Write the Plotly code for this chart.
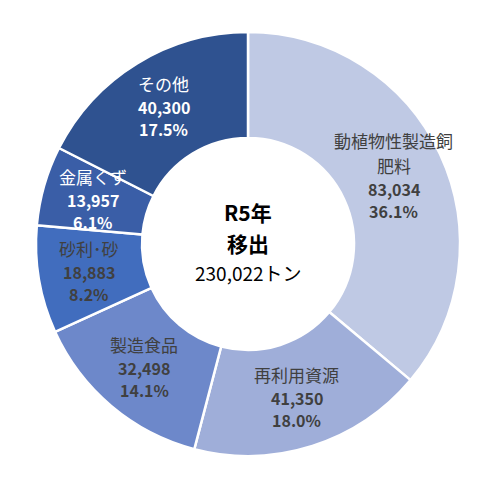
import math
import plotly.graph_objects as go

# 移出量（トン）R5年
labels = ["動植物性製造飼<br>肥料", "再利用資源", "製造食品", "砂利･砂", "金属くず", "その他"]
values = [83034, 41350, 32498, 18883, 13957, 40300]
percents = ["36.1%", "18.0%", "14.1%", "8.2%", "6.1%", "17.5%"]
colors = ["#BFC9E4", "#9FAED9", "#6D88CA", "#416DBE", "#3A5EA7", "#2F5290"]
text_colors = ["#404040", "#404040", "#404040", "#404040", "#FFFFFF", "#FFFFFF"]
center_lines = ["R5年", "移出", "230,022トン"]

FONT = "Noto Sans CJK JP"
W, H = 498, 482
# ページ本体に 8px の余白があるので左上をその分詰める
L, R, T, B = 28, 46, 24, 34

fig = go.Figure(
    go.Pie(
        labels=labels,
        values=values,
        hole=0.5,
        sort=False,
        direction="clockwise",
        rotation=0,
        marker=dict(colors=colors, line=dict(color="white", width=2.5)),
        textinfo="none",
        hoverinfo="label+value+percent",
        showlegend=False,
    )
)


def put(x, y, text, size, color, shift, bold=False):
    fig.add_annotation(
        x=x, y=y, xref="paper", yref="paper",
        text=f"<b>{text}</b>" if bold else text,
        showarrow=False,
        xanchor="center", yanchor="middle",
        font=dict(family=FONT, size=size, color=color),
        yshift=shift,
    )


# ラベルはリング中央付近に配置（値の累積から角度を計算）
total = sum(values)
pw, ph = W - L - R, H - T - B
rad = min(pw, ph) / 2
cum = 0
for lab, v, pct, tc in zip(labels, values, percents, text_colors):
    mid = (cum + v / 2) / total * 2 * math.pi
    cum += v
    r = rad * 0.76
    x = 0.5 + r * math.sin(mid) / pw
    y = 0.5 + r * math.cos(mid) / ph
    # (文字列, サイズ, 太字, 次行までの間隔)
    names = lab.split("<br>")
    rows = [(s, 17, False, 25) for s in names[:-1]]
    rows += [(names[-1], 17, False, 23.5), (f"{v:,}", 16, True, 22), (pct, 16, True, 0)]
    offs, acc = [], 0
    for row in rows:
        offs.append(acc)
        acc += row[3]
    span = offs[-1]
    for (s, sz, bd, _), o in zip(rows, offs):
        put(x, y, s, sz, tc, span / 2 - o, bd)

# 中央のテキスト
put(0.5, 0.5, center_lines[0], 21, "#000000", 32, True)
put(0.5, 0.5, center_lines[1], 21, "#000000", 1, True)
put(0.5, 0.5, center_lines[2], 19, "#000000", -28)

fig.update_layout(
    width=W,
    height=H,
    margin=dict(l=L, r=R, t=T, b=B),
    paper_bgcolor="white",
    plot_bgcolor="white",
    font=dict(family=FONT),
)

fig.write_html("out.html")
